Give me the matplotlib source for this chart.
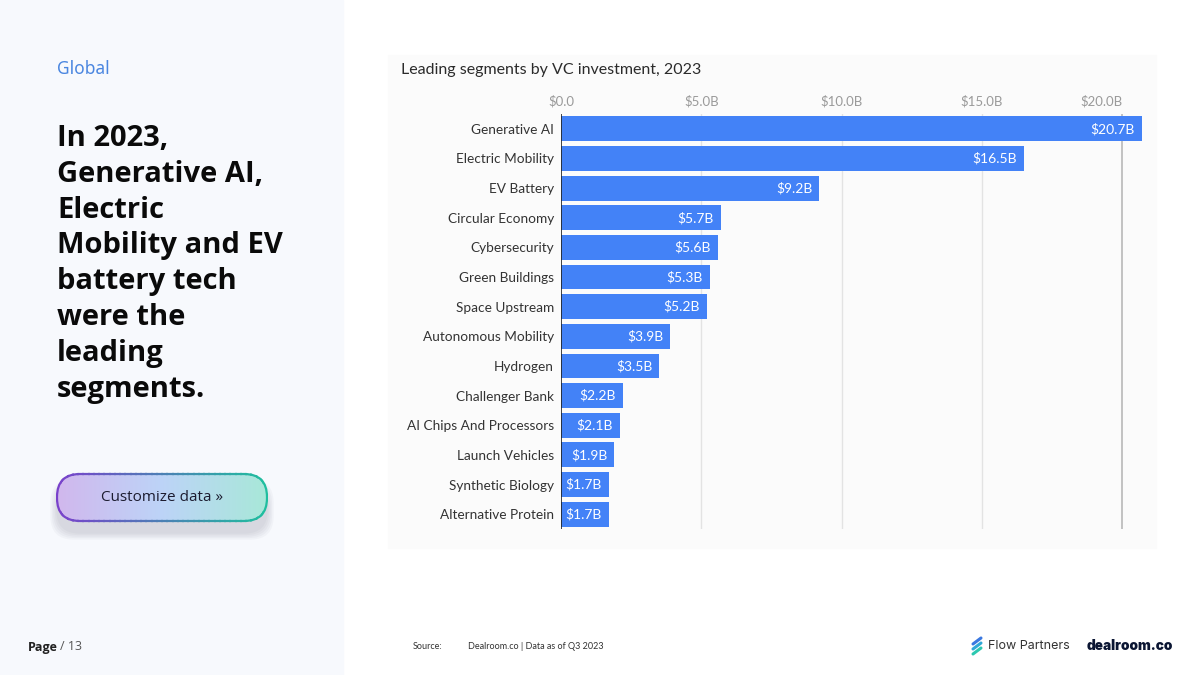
import matplotlib.pyplot as plt
import numpy as np
from matplotlib.patches import FancyBboxPatch, Rectangle
from matplotlib import font_manager

# chart data
segments = [
    "Generative AI", "Electric Mobility", "EV Battery", "Circular Economy",
    "Cybersecurity", "Green Buildings", "Space Upstream", "Autonomous Mobility",
    "Hydrogen", "Challenger Bank", "AI Chips And Processors", "Launch Vehicles",
    "Synthetic Biology", "Alternative Protein",
]
investment = [20.7, 16.5, 9.2, 5.7, 5.6, 5.3, 5.2, 3.9, 3.5, 2.2, 2.1, 1.9, 1.7, 1.7]
value_labels = ["$20.7B", "$16.5B", "$9.2B", "$5.7B", "$5.6B", "$5.3B", "$5.2B",
                "$3.9B", "$3.5B", "$2.2B", "$2.1B", "$1.9B", "$1.7B", "$1.7B"]
ticks = [0, 5, 10, 15, 20]
tick_labels = ["$0.0", "$5.0B", "$10.0B", "$15.0B", "$20.0B"]

plt.rcParams["font.family"] = ["Lato", "DejaVu Sans"]

# pick a family that really has a bold face for the headline
bold_family = "DejaVu Sans"
for fam in ["Noto Sans", "Open Sans", "Lato"]:
    fp = font_manager.findfont(font_manager.FontProperties(family=fam, weight="bold"),
                               fallback_to_default=False)
    if "bold" in fp.lower():
        bold_family = fam
        break

W, H = 1200, 675
fig = plt.figure(figsize=(12, 6.75), dpi=100)
fig.patch.set_facecolor("white")

# background layer in pixel coordinates
bg = fig.add_axes([0, 0, 1, 1])
bg.set_xlim(0, W)
bg.set_ylim(H, 0)
bg.axis("off")
bg.add_patch(Rectangle((0, 0), 343, H, color="#f7f9fd", zorder=0))
bg.add_patch(Rectangle((388, 55), 768, 493, color="#fbfbfb", zorder=0))

# left panel text
bg.text(57, 69, "Global", color="#4a86e0", fontsize=12.5, va="center",
        family=["Noto Sans", "DejaVu Sans"])
bg.text(57, 124, "In 2023,\nGenerative AI,\nElectric\nMobility and EV\nbattery tech\nwere the\nleading\nsegments.",
        fontsize=21, fontweight="bold", va="top", linespacing=1.31,
        color="#0a0a0a", family=[bold_family, "DejaVu Sans"])

# button with shadow and gradient
for i in range(5):
    pad = 1 + i * 2.5
    bg.add_patch(FancyBboxPatch((57 + 23 - pad * 0.6, 474 + 23 + 12 - pad * 0.6),
                                164 + 1.2 * pad, 1 + 1.2 * pad,
                                boxstyle="round,pad=23", fc="#2a2a48", ec="none",
                                alpha=0.03, zorder=1))
btn = FancyBboxPatch((57 + 23, 474 + 23), 210 - 46, 47 - 46,
                     boxstyle="round,pad=23", fc="#ffffff", ec="none", zorder=2)
bg.add_patch(btn)
grad = np.linspace(0, 1, 256)
c0 = np.array([0.82, 0.72, 0.93])
c1 = np.array([0.66, 0.91, 0.85])
cm = np.array([0.74, 0.83, 0.97])
img = np.array([c0 + (cm - c0) * (g * 2) if g < 0.5 else cm + (c1 - cm) * ((g - 0.5) * 2) for g in grad])
im = bg.imshow(img[np.newaxis, :, :], extent=(57, 267, 521, 474), aspect="auto", zorder=2)
im.set_clip_path(btn)
e0 = np.array([0.48, 0.25, 0.80])
e1 = np.array([0.12, 0.75, 0.62])
n = 40
for k in range(n):
    t0, t1 = k / n, (k + 1) / n
    col = e0 + (e1 - e0) * (t0 + t1) / 2
    r = Rectangle((57 + 210 * t0 - 1, 470), 210 / n + 2, 56, transform=bg.transData)
    edge = FancyBboxPatch((57 + 23, 474 + 23), 210 - 46, 1,
                          boxstyle="round,pad=23", fc="none", ec=col, lw=1.6, zorder=3)
    bg.add_patch(edge)
    edge.set_clip_path(r)
bg.text(162, 497.5, "Customize data \u00bb", ha="center", va="center", fontsize=11,
        color="#1c1c30", family=["Open Sans", "DejaVu Sans"], zorder=4)

# footer
bg.text(28, 647, "Page", fontsize=9, fontweight="bold", color="#222222", va="center",
        family=["Open Sans", "DejaVu Sans"])
bg.text(60, 647, "/ 13", fontsize=9, color="#555555", va="center",
        family=["Open Sans", "DejaVu Sans"])
bg.text(413, 646.5, "Source:", fontsize=6.5, color="#333333", va="center")
bg.text(468, 646.5, "Dealroom.co | Data as of Q3 2023", fontsize=6.5, color="#333333", va="center")

# logos
for j, col in enumerate(["#3a78e0", "#2fa8d8", "#2cc8b0"]):
    y0 = 640 + j * 5
    bg.plot([973, 981], [y0 + 4, y0 - 2], color=col, lw=2.2, solid_capstyle="round")
bg.text(988, 646, "Flow Partners", fontsize=9, color="#333333", va="center",
        family=["Inter", "DejaVu Sans"])
bg.text(1087, 645.5, "dealroom.co", fontsize=9.8, fontweight="black", color="#0b1633",
        va="center", family=["Inter", "DejaVu Sans"])

# chart title
bg.text(401, 70, "Leading segments by VC investment, 2023", fontsize=11.5,
        color="#2b2b2b", va="center")

# bar chart
ax = fig.add_axes([561 / W, 1 - 529 / H, 585 / W, 415 / H])
ax.set_facecolor("none")
y = np.arange(len(segments))
ax.barh(y, investment, height=0.84, color="#4382f7", zorder=3)
ax.set_xlim(0, 20.85)
ax.set_ylim(13.5, -0.5)
for xv in ticks[1:-1]:
    ax.axvline(xv, color="#e3e3e3", lw=1, zorder=1)
ax.axvline(20, color="#b8b8b8", lw=1.2, zorder=1)
ax.axvline(0, color="#222222", lw=1.2, zorder=4)
ax.set_yticks(y)
ax.set_yticklabels(segments, fontsize=9.8, color="#333333")
ax.set_xticks(ticks)
ax.set_xticklabels(tick_labels, fontsize=9.5, color="#9a9a9a")
ax.xaxis.tick_top()
ax.tick_params(axis="x", length=0, pad=5)
ax.tick_params(axis="y", length=0, pad=5)
ax.xaxis.get_major_ticks()[-1].label2.set_horizontalalignment("right")
for s in ax.spines.values():
    s.set_visible(False)
for yi, v, lab in zip(y, investment, value_labels):
    ax.annotate(lab, (v, yi), xytext=(-5, 0), textcoords="offset points",
                ha="right", va="center", color="white", fontsize=10, zorder=5)

fig.savefig("out.png", dpi=100, facecolor=fig.get_facecolor())
